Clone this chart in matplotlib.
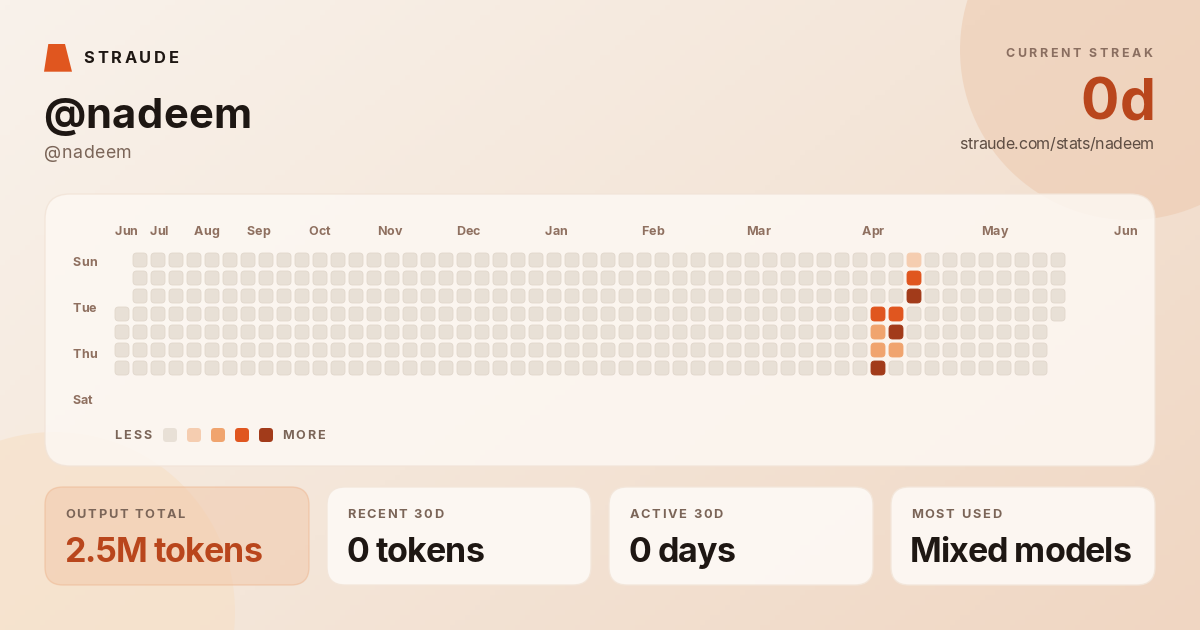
import numpy as np
import matplotlib
matplotlib.use("Agg")
from matplotlib import pyplot as plt
from matplotlib.patches import FancyBboxPatch, Circle, Polygon
from matplotlib.colors import LinearSegmentedColormap
from matplotlib.font_manager import FontProperties, findfont
from matplotlib.ft2font import FT2Font

# data
user = "@nadeem"
streak = "0d"
profile_url = "straude.com/stats/nadeem"

n_weeks = 53
first_day = 3   # first week starts on Wed
last_day = 3    # last week ends on Wed
day_labels = ["Sun", "Tue", "Thu", "Sat"]
month_labels = ["Jun", "Jul", "Aug", "Sep", "Oct", "Nov", "Dec", "Jan", "Feb", "Mar", "Apr", "May", "Jun"]

active_week = [42, 42, 42, 42, 43, 43, 43, 44, 44, 44]
active_day = [3, 4, 5, 6, 3, 4, 5, 0, 1, 2]
active_level = [3, 2, 2, 4, 3, 4, 2, 1, 3, 4]

card_titles = ["OUTPUT TOTAL", "RECENT 30D", "ACTIVE 30D", "MOST USED"]
card_values = ["2.5M tokens", "0 tokens", "0 days", "Mixed models"]

level_colors = ["#E8E0D6", "#F5CDB0", "#F0A46E", "#E0561F", "#A23B1A"]

DARK = "#1E1713"
MUTED = "#7B6558"
LABEL = "#8F7060"
ACCENT = "#B9461C"
FAMILY = "Inter"


def metrics(s, fp):
    font = FT2Font(findfont(fp))
    font.set_size(fp.get_size_in_points(), 100)
    adv, lsb, rsb = [], [], []
    for c in s:
        g = font.load_char(ord(c))
        a = g.linearHoriAdvance / 65536
        adv.append(a)
        lsb.append(g.horiBearingX / 64)
        rsb.append(a - (g.horiBearingX + g.width) / 64)
    return adv, lsb[0], rsb[-1]


def put_text(ax, x, y, s, size, color, weight="normal", width=None, ha="left"):
    # width = ink width in px; spacing between letters is adjusted to hit it
    fp = FontProperties(family=FAMILY, weight=weight, size=size)
    adv, l0, r1 = metrics(s, fp)
    ink = sum(adv) - l0 - r1
    track = 0.0
    if width is not None and len(s) > 1:
        track = (width - ink) / (len(s) - 1)
    ink += track * (len(s) - 1)
    cx = x - l0 if ha == "left" else x - ink - l0 - 2.5
    for c, a in zip(s, adv):
        ax.text(cx, y, c, fontproperties=fp, color=color, va="baseline", ha="left", zorder=10)
        cx += a + track


fig = plt.figure(figsize=(12, 6.3), dpi=100)
ax = fig.add_axes([0, 0, 1, 1])
ax.set_xlim(0, 1200)
ax.set_ylim(630, 0)
ax.axis("off")

# background gradient
gx, gy = np.meshgrid(np.linspace(0, 1, 240), np.linspace(0, 1, 126))
grad = gx * 0.6 + gy * 0.4
bg_cmap = LinearSegmentedColormap.from_list("bg", ["#F9F2EB", "#F4E6D9", "#F0D6C2"])
ax.imshow(grad, extent=[0, 1200, 630, 0], cmap=bg_cmap, aspect="auto", zorder=0)

ax.add_patch(Circle((1130, 50), 170, color="#EDC9AE", alpha=0.55, lw=0, zorder=1))
ax.add_patch(Circle((55, 612), 180, color="#F7DFC4", alpha=0.55, lw=0, zorder=1))

# header
ax.add_patch(Polygon([(44, 71.7), (72, 71.7), (65, 44), (48.3, 44)], closed=True,
                     color="#E0561F", lw=0, zorder=5))
put_text(ax, 84.3, 63.3, "STRAUDE", 11.8, DARK, "bold", width=93.4)
put_text(ax, 45, 127.7, user, 30, DARK, "bold", width=204)
put_text(ax, 45, 158.3, user, 12.8, MUTED, "normal", width=85)
put_text(ax, 1154.5, 56.7, "CURRENT STREAK", 8.9, "#8A6E60", "bold", width=146.5, ha="right")
put_text(ax, 1155, 120, streak, 41, ACCENT, "bold", width=69.3, ha="right")
put_text(ax, 1155.3, 149, profile_url, 11.5, "#5E4D43", "normal", width=192.6, ha="right")

# heatmap panel
ax.add_patch(FancyBboxPatch((45, 194), 1110, 272, boxstyle="round,pad=0,rounding_size=25",
                            fc="#FDF8F3", ec="#F2E4D8", lw=1, alpha=0.85, zorder=2))

month_x = [115, 150, 194.3, 247.3, 309.3, 378.3, 457.3, 545.3, 642.3, 747, 861.7, 982.3, 1114.3]
for m, mx in zip(month_labels, month_x):
    put_text(ax, mx, 235, m, 9, LABEL, "bold")
for d, dy in zip(day_labels, [266, 312, 358, 404]):
    put_text(ax, 73.3, dy, d, 9, LABEL, "bold")

# grid of days in its own axes: weeks on x, weekdays on y
gax = fig.add_axes([113 / 1200, 1 - 377 / 630, 954 / 1200, 126 / 630])
gax.set_xlim(-0.5, n_weeks - 0.5)
gax.set_ylim(6.5, -0.5)
gax.axis("off")
gax.patch.set_alpha(0)

levels = np.zeros((7, n_weeks), dtype=int)
for w, d, lv in zip(active_week, active_day, active_level):
    levels[d, w] = lv
cell = 14 / 18
for w in range(n_weeks):
    for d in range(7):
        if w == 0 and d < first_day:
            continue
        if w == n_weeks - 1 and d > last_day:
            continue
        lv = levels[d, w]
        ec = "#E1D7CC" if lv == 0 else level_colors[lv]
        gax.add_patch(FancyBboxPatch((w - cell / 2, d - cell / 2), cell, cell,
                                     boxstyle="round,pad=0,rounding_size=0.2",
                                     fc=level_colors[lv], ec=ec, lw=0.6))

# legend
put_text(ax, 115, 439.3, "LESS", 9, MUTED, "bold", width=36)
for i, c in enumerate(level_colors):
    ax.add_patch(FancyBboxPatch((163 + 24 * i, 428), 14, 14, boxstyle="round,pad=0,rounding_size=3.5",
                                fc=c, ec="none", zorder=5))
put_text(ax, 283.3, 439.3, "MORE", 9, MUTED, "bold", width=41)

# stat cards
card_x = [45, 327, 609, 891]
title_w = [119, 95.5, 92.5, 89]
value_w = [195, 135, 104, 218]
for i, (cx, t, v) in enumerate(zip(card_x, card_titles, card_values)):
    if i == 0:
        ax.add_patch(FancyBboxPatch((cx, 487), 264, 98, boxstyle="round,pad=0,rounding_size=18",
                                    fc="#F2C7A8", ec="#EDB58F", lw=1, alpha=0.5, zorder=3))
        vc = ACCENT
    else:
        ax.add_patch(FancyBboxPatch((cx, 487), 264, 98, boxstyle="round,pad=0,rounding_size=18",
                                    fc="#FDF9F5", ec="#F3E6DA", lw=1, alpha=0.93, zorder=3))
        vc = DARK
    put_text(ax, cx + 20.5, 518.3, t, 9.2, MUTED, "bold", width=title_w[i])
    put_text(ax, cx + 21, 562.3, v, 24.5, vc, "bold", width=value_w[i])

fig.savefig("out.png", dpi=100)
